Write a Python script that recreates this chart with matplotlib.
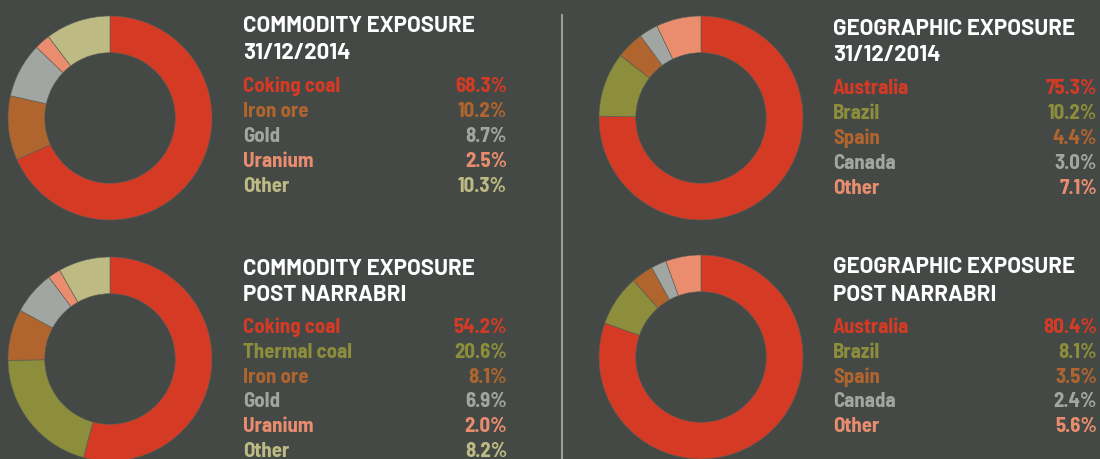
import matplotlib
matplotlib.use("Agg")
import matplotlib.pyplot as plt

# ---------------- data ----------------
commodity_2014_labels = ["Coking coal", "Iron ore", "Gold", "Uranium", "Other"]
commodity_2014_values = [68.3, 10.2, 8.7, 2.5, 10.3]

commodity_post_labels = ["Coking coal", "Thermal coal", "Iron ore", "Gold", "Uranium", "Other"]
commodity_post_values = [54.2, 20.6, 8.1, 6.9, 2.0, 8.2]

geo_labels = ["Australia", "Brazil", "Spain", "Canada", "Other"]
geo_2014_values = [75.3, 10.2, 4.4, 3.0, 7.1]
geo_post_values = [80.4, 8.1, 3.5, 2.4, 5.6]

# ---------------- styles ----------------
BG = "#444946"
RED = "#d43a24"
BROWN = "#b0652e"
GREY = "#a1a6a3"
SALMON = "#e98d6e"
KHAKI = "#bdbb83"
OLIVE = "#8c8e3b"

commodity_colors = {"Coking coal": RED, "Thermal coal": OLIVE, "Iron ore": BROWN,
                    "Gold": GREY, "Uranium": SALMON, "Other": KHAKI}
geo_colors = {"Australia": RED, "Brazil": OLIVE, "Spain": BROWN,
              "Canada": GREY, "Other": SALMON}

LEG_FONT = ["Barlow Semi Condensed", "DejaVu Sans"]
TITLE_FONT = ["Barlow", "Barlow Semi Condensed", "DejaVu Sans"]
plt.rcParams["font.family"] = LEG_FONT

W, H = 1100, 459
fig = plt.figure(figsize=(W / 100, H / 100), dpi=100, facecolor=BG)


def fx(x):
    return x / W


def fy(y):
    return 1 - y / H


R = 102  # outer radius in px

panels = [
    dict(cx=110, cy=118, labels=commodity_2014_labels, values=commodity_2014_values,
         colors=commodity_colors, title=("COMMODITY EXPOSURE", "31/12/2014"),
         tx=243, t1=32, t2=59, rows0=92, step=25, vx=507),
    dict(cx=701, cy=118, labels=geo_labels, values=geo_2014_values,
         colors=geo_colors, title=("GEOGRAPHIC EXPOSURE", "31/12/2014"),
         tx=833, t1=35, t2=61, rows0=94, step=25, vx=1097),
    dict(cx=110, cy=359, labels=commodity_post_labels, values=commodity_post_values,
         colors=commodity_colors, title=("COMMODITY EXPOSURE", "POST NARRABRI"),
         tx=243, t1=275, t2=301, rows0=333, step=24.8, vx=507),
    dict(cx=701, cy=357, labels=geo_labels, values=geo_post_values,
         colors=geo_colors, title=("GEOGRAPHIC EXPOSURE", "POST NARRABRI"),
         tx=833, t1=273, t2=301, rows0=333, step=24.8, vx=1097),
]

for p in panels:
    ax = fig.add_axes([fx(p["cx"] - R), fy(p["cy"] + R), 2 * R / W, 2 * R / H])
    ax.set_facecolor("none")
    cols = [p["colors"][l] for l in p["labels"]]
    ax.pie(p["values"], colors=cols, startangle=90, counterclock=False, radius=1.0,
           wedgeprops=dict(width=0.36, edgecolor="#5a5e58", linewidth=0.4))
    ax.set_xlim(-1, 1)
    ax.set_ylim(-1, 1)
    ax.set_aspect("auto")
    ax.axis("off")

    for line, yb in zip(p["title"], (p["t1"], p["t2"])):
        fig.text(fx(p["tx"]), fy(yb), line, color="white", fontsize=16,
                 fontweight="bold", va="baseline", ha="left", family=TITLE_FONT)
    for i, (lab, val) in enumerate(zip(p["labels"], p["values"])):
        y = p["rows0"] + i * p["step"]
        c = p["colors"][lab]
        fig.text(fx(p["tx"]), fy(y), lab, color=c, fontsize=15, fontweight="bold",
                 va="baseline", ha="left")
        fig.text(fx(p["vx"]), fy(y), f"{val:.1f}%", color=c, fontsize=15,
                 fontweight="bold", va="baseline", ha="right")

# vertical divider
fig.add_artist(plt.Line2D([fx(562), fx(562)], [fy(15), fy(459)], color="#9a9e9b",
                          linewidth=1.5, transform=fig.transFigure))

fig.savefig("out.png", dpi=100, facecolor=BG)
